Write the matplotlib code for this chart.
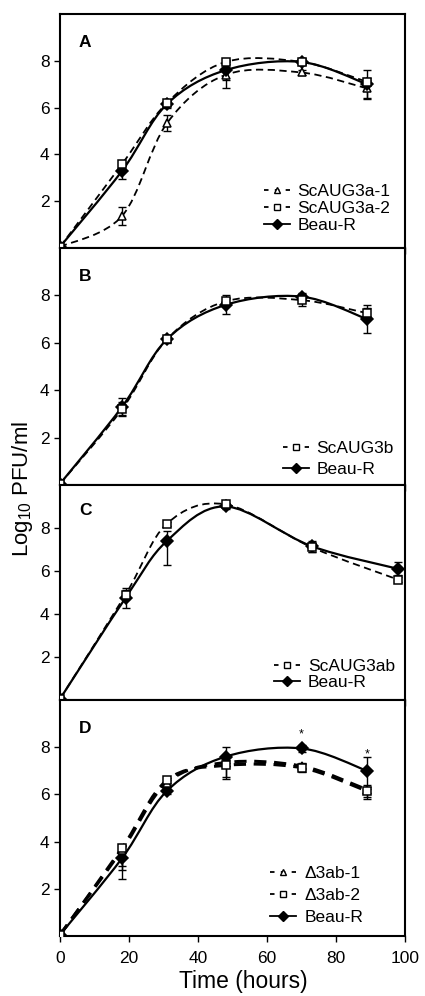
import numpy as np
import matplotlib
matplotlib.use("Agg")
import matplotlib.pyplot as plt
from matplotlib.path import Path
from matplotlib.patches import PathPatch
from matplotlib.lines import Line2D

plt.rcParams['font.family'] = ['Liberation Sans', 'DejaVu Sans']
plt.rcParams['mathtext.default'] = 'regular'

# data (log10 PFU/ml)
time = [0, 18, 31, 48, 70, 89]
time_c = [0, 19, 31, 48, 73, 98]

beau_r = [0.05, 3.3, 6.15, 7.6, 7.95, 7.0]
beau_r_err = [0, 0.35, 0.15, 0.4, 0.15, 0.6]

scaug3a_1 = [0.05, 1.37, 5.33, 7.4, 7.5, 6.82]
scaug3a_1_err = [0, 0.38, 0.35, 0.55, 0.1, 0.45]
scaug3a_2 = [0.05, 3.59, 6.2, 7.95, 7.95, 7.1]
scaug3a_2_err = [0, 0.1, 0.1, 0.1, 0.1, 0.1]

scaug3b = [0.05, 3.2, 6.15, 7.75, 7.8, 7.25]
scaug3b_err = [0, 0.3, 0.1, 0.15, 0.25, 0.2]

beau_r_c = [0.05, 4.75, 7.4, 9.0, 7.15, 6.1]
beau_r_c_err = [[0, 0.45, 1.1, 0.1, 0.25, 0.3],
                [0, 0.45, 0.45, 0.1, 0.25, 0.3]]
scaug3ab = [0.05, 4.9, 8.2, 9.1, 7.1, 5.6]
scaug3ab_err = [0, 0.2, 0.1, 0.05, 0.2, 0.1]

d3ab_1 = [0.05, 3.66, 6.5, 7.35, 7.2, 6.2]
d3ab_1_err = [[0, 0.85, 0.1, 0.7, 0.1, 0.3],
              [0, 0.15, 0.1, 0.1, 0.1, 0.1]]
d3ab_2 = [0.05, 3.73, 6.6, 7.23, 7.13, 6.14]
d3ab_2_err = [[0, 1.3, 0.1, 0.5, 0.2, 0.35],
              [0, 0.1, 0.1, 0.1, 0.2, 0.1]]

star_t = [70, 89]
star_y = [8.55, 7.7]


def smooth_path(x, y):
    # excel-like smoothed line through the points (bezier segments)
    pts = np.column_stack([x, y]).astype(float)
    n = len(pts)
    verts = [pts[0]]
    codes = [Path.MOVETO]
    for i in range(n - 1):
        p0 = pts[max(i - 1, 0)]
        p1 = pts[i]
        p2 = pts[i + 1]
        p3 = pts[min(i + 2, n - 1)]
        verts += [p1 + (p2 - p0) / 6, p2 - (p3 - p1) / 6, p2]
        codes += [Path.CURVE4] * 3
    return Path(verts, codes)


def draw_series(ax, t, y, err, marker, filled, dashed, lw):
    ls = (0, (4, 2.5)) if dashed else '-'
    ax.add_patch(PathPatch(smooth_path(t, y), fill=False, edgecolor='k',
                           lw=lw, linestyle=ls, zorder=2))
    ax.errorbar(t, y, yerr=err, fmt='none', ecolor='k', elinewidth=1,
                capsize=3, capthick=1, zorder=3)
    ms = {'D': 6.5, 's': 5.5, '^': 6}[marker]
    fc = 'k' if filled else 'white'
    ax.plot(t, y, linestyle='none', marker=marker, ms=ms,
            mfc=fc, mec='k', mew=1.1, zorder=4)
    # legend handle
    hls = (0, (2.5, 3.5)) if dashed else '-'
    return Line2D([], [], color='k', lw=1.3, linestyle=hls, marker=marker,
                  ms=ms * 0.8, mfc=fc, mec='k', mew=1.0)


def add_legend(ax, handles, labels, x0, y0, spacing):
    ax.legend(handles, labels, loc='lower left', bbox_to_anchor=(x0, y0),
              frameon=False, fontsize=12.5, handlelength=1.5,
              handletextpad=0.45, labelspacing=spacing, borderpad=0,
              borderaxespad=0)


fig = plt.figure(figsize=(4.25, 9.96), dpi=100)

# panel boxes in pixel rows: top, bottom
rows = [(14, 248), (248, 485), (485, 700), (700, 936)]
axes = []
for top, bot in rows:
    ax = fig.add_axes([60 / 425, 1 - bot / 996, 345 / 425, (bot - top) / 996])
    axes.append(ax)

# A
ax = axes[0]
h1 = draw_series(ax, time, scaug3a_1, scaug3a_1_err, '^', False, True, 1.3)
h3 = draw_series(ax, time, beau_r, beau_r_err, 'D', True, False, 1.6)
h2 = draw_series(ax, time, scaug3a_2, scaug3a_2_err, 's', False, True, 1.3)
add_legend(ax, [h1, h2, h3], ['ScAUG3a-1', 'ScAUG3a-2', 'Beau-R'],
           0.59, 0.062, 0.12)

# B
ax = axes[1]
h2 = draw_series(ax, time, beau_r, beau_r_err, 'D', True, False, 1.6)
h1 = draw_series(ax, time, scaug3b, scaug3b_err, 's', False, True, 1.3)
add_legend(ax, [h1, h2], ['ScAUG3b', 'Beau-R'], 0.645, 0.035, 0.3)

# C
ax = axes[2]
h2 = draw_series(ax, time_c, beau_r_c, beau_r_c_err, 'D', True, False, 1.6)
h1 = draw_series(ax, time_c, scaug3ab, scaug3ab_err, 's', False, True, 1.3)
add_legend(ax, [h1, h2], ['ScAUG3ab', 'Beau-R'], 0.62, 0.045, 0.05)

# D
ax = axes[3]
h3 = draw_series(ax, time, beau_r, beau_r_err, 'D', True, False, 1.6)
h1 = draw_series(ax, time, d3ab_1, d3ab_1_err, '^', False, True, 2.2)
h2 = draw_series(ax, time, d3ab_2, d3ab_2_err, 's', False, True, 2.2)
for t, y in zip(star_t, star_y):
    ax.text(t, y, '*', ha='center', va='center', fontsize=9)
add_legend(ax, [h1, h2, h3], ['\u03943ab-1', '\u03943ab-2', 'Beau-R'],
           0.61, 0.048, 0.38)

for ax, letter in zip(axes, 'ABCD'):
    ax.set_xlim(0, 100)
    ax.set_ylim(0, 10)
    ax.set_yticks([2, 4, 6, 8])
    ax.set_xticks([0, 20, 40, 60, 80, 100])
    ax.tick_params(axis='both', direction='out', length=4.5, width=1,
                   labelsize=12.5, pad=3)
    ax.tick_params(axis='x', pad=6)
    for s in ax.spines.values():
        s.set_linewidth(1.5)
    ax.text(0.055, 0.88, letter, transform=ax.transAxes, fontsize=12.5,
            fontweight='bold', va='center', ha='left')
    if letter != 'D':
        ax.tick_params(axis='x', labelbottom=False)

fig.text(0.573, 1 - 988 / 996, 'Time (hours)', fontsize=16.5, ha='center',
         va='baseline')
fig.text(0.052, 0.509, 'Log$_{10}$ PFU/ml', rotation=90, fontsize=16,
         ha='center', va='center')

fig.savefig('out.png', dpi=100)
